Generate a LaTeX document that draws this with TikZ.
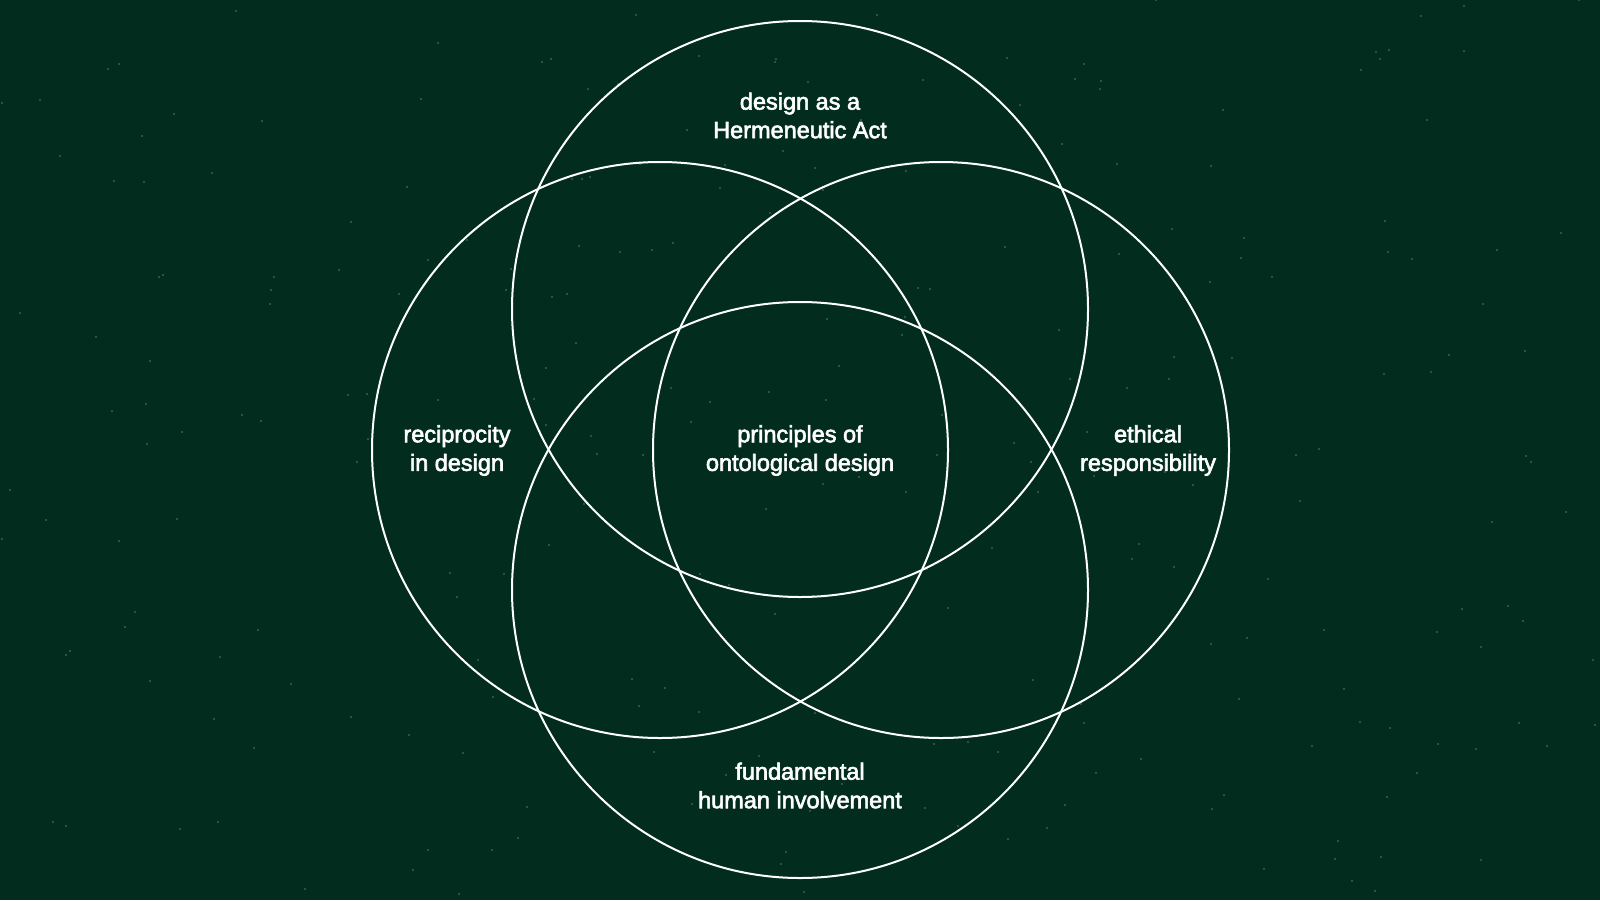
\documentclass[tikz,border=0pt]{standalone}
\usepackage{fontspec}
\setmainfont{Liberation Sans}
\newfontfamily\medfont{Liberation Sans}[FakeBold=2.5]
\definecolor{bgreen}{RGB}{2,45,30}
\tikzset{
  ring/.style={circle, draw=white, line width=2pt, minimum size=576pt, inner sep=0pt},
  lbl/.style={text=white, align=center, font=\medfont\fontsize{23.5}{28.6}\selectfont},
  speck/.style={fill=white, opacity=0.35}
}
\begin{document}
\begin{tikzpicture}[x=1pt,y=-1pt]
\fill[bgreen] (0,0) rectangle (1600,900);
\useasboundingbox (0,0) rectangle (1600,900);
\pgfmathsetseed{7}
\foreach \i in {1,...,260}{
  \pgfmathsetmacro{\sx}{random(0,1600)}
  \pgfmathsetmacro{\sy}{random(0,900)}
  \fill[speck] (\sx,\sy) circle (0.8pt);
}
\node[ring] (top) at (800,309) {};
\node[ring] (left) at (660,450) {};
\node[ring] (right) at (941,450) {};
\node[ring] (bottom) at (800,590) {};
\node[lbl] (ttop) at (800,115.5) {design as a\\Hermeneutic Act};
\node[lbl] (tleft) at (457,450.5) {reciprocity\\in design};
\node[lbl] (tcenter) at (800,450.5) {principles of\\ontological design};
\node[lbl] (tright) at (1148,450.5) {ethical\\responsibility};
\node[lbl] (tbottom) at (800,785.5) {fundamental\\human involvement};
\end{tikzpicture}
\end{document}
